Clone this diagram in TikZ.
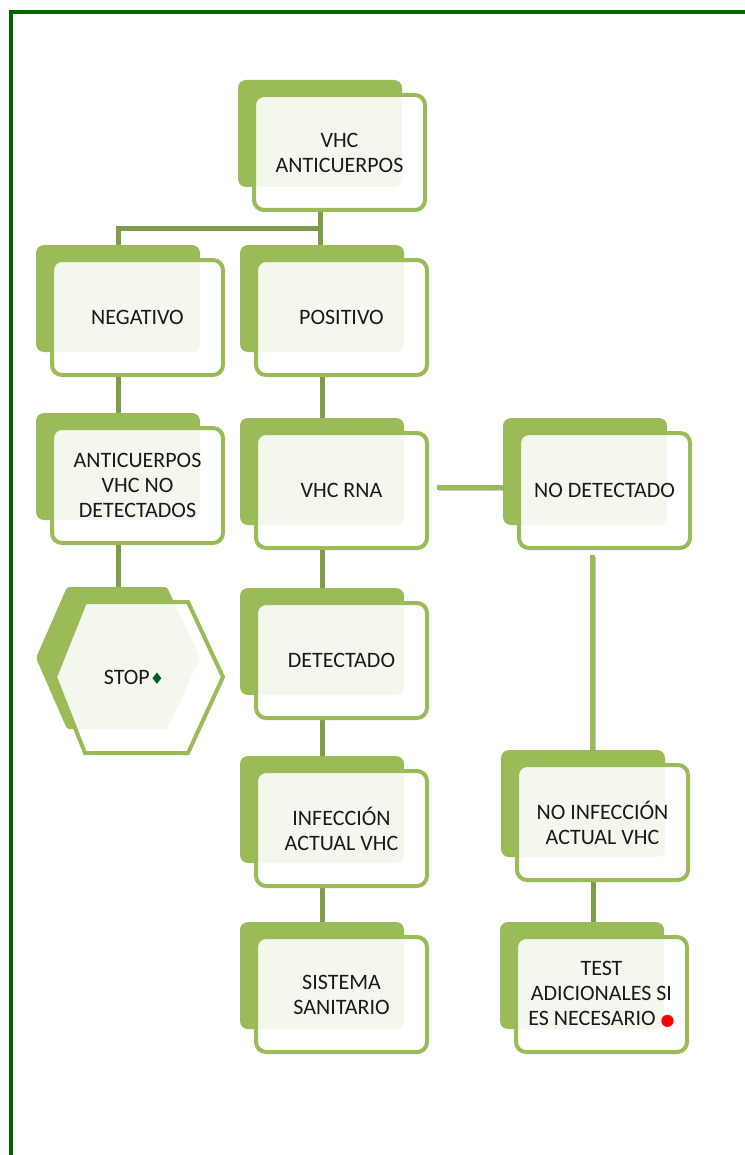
\documentclass[tikz,border=0pt]{standalone}
\usepackage{fontspec}
\setmainfont{Carlito}
\newfontfamily\symfont{DejaVu Sans}
\usetikzlibrary{calc,backgrounds}
\definecolor{gback}{HTML}{9BBB59}
\definecolor{gpale}{HTML}{F3F7EE}
\definecolor{gconn}{HTML}{7E9C48}
\definecolor{gborder}{HTML}{006400}
\definecolor{gdiam}{HTML}{00602A}
\definecolor{gtext}{HTML}{1A1A1A}
\tikzset{
  gfront/.style={draw=gback,line width=2pt,rounded corners=5pt,align=center,
    inner sep=0pt,minimum width=85.5pt,minimum height=57.5pt,text=gtext,
    font=\fontsize{11}{12.5}\selectfont},
  gbackn/.style={inner sep=0pt,minimum width=82pt,minimum height=53.5pt},
  tree/.style={draw=gconn,line width=2.5pt},
  side/.style={draw=gback,line width=2.5pt,
    preaction={draw=black!45,opacity=0.45,line width=2.5pt,transform canvas={shift={(0.9pt,-0.9pt)}}}}
}
\newcommand\gbox[4]{%
  \fill[gback,rounded corners=4pt] (#2,#3) rectangle ++(164,107);
  \node[gbackn] (#1b) at (#2+82,#3+53.5) {};
  \fill[white,rounded corners=5pt] (#2+16,#3+15) rectangle ++(171,115);
  \begin{scope}
    \clip[rounded corners=5pt] (#2+16,#3+15) rectangle ++(171,115);
    \fill[gpale,rounded corners=4pt] (#2,#3) rectangle ++(164,107);
  \end{scope}
  \node[gfront] (#1) at (#2+101.5,#3+72.5) {#4};
}
\begin{document}
\begin{tikzpicture}[x=0.5pt,y=-0.5pt]
\useasboundingbox (0,0) rectangle (744,1155);
\draw[gborder,line width=2pt] (10.5,1160) -- (10.5,12) -- (750,12);

\gbox{vhc}{238}{80}{VHC\\ANTICUERPOS}
\gbox{neg}{36}{245}{NEGATIVO}
\gbox{pos}{240}{245}{POSITIVO}
\gbox{ant}{36}{413}{ANTICUERPOS\\VHC NO\\DETECTADOS}
\gbox{rna}{240}{418}{VHC RNA}
\gbox{nodet}{503}{418}{NO DETECTADO}
\gbox{det}{240}{588}{DETECTADO}
\gbox{inf}{240}{756}{INFECCIÓN\\ACTUAL VHC}
\gbox{noinf}{501}{750}{NO INFECCIÓN\\ACTUAL VHC}
\gbox{sis}{240}{922}{SISTEMA\\SANITARIO}
\gbox{test}{500}{922}{TEST\\ADICIONALES SI\\ES NECESARIO {\symfont\color{red}\fontsize{8}{8}\selectfont●}}

% STOP hexagon
\fill[gback,rounded corners=1pt] (36,658) -- (67,587) -- (167,587) -- (200,658) -- (167,729) -- (67,729) -- cycle;
\node[inner sep=0pt,minimum width=82pt,minimum height=71pt] (stopb) at (118,658) {};
\fill[white] (55,677) -- (85,602) -- (188,602) -- (223,677) -- (188,753) -- (85,753) -- cycle;
\begin{scope}
  \clip (55,677) -- (85,602) -- (188,602) -- (223,677) -- (188,753) -- (85,753) -- cycle;
  \fill[gpale,rounded corners=1pt] (36,658) -- (67,587) -- (167,587) -- (200,658) -- (167,729) -- (67,729) -- cycle;
\end{scope}
\draw[gback,line width=2pt,line join=miter] (55,677) -- (85,602) -- (188,602) -- (223,677) -- (188,753) -- (85,753) -- cycle;
\node[text=gtext,font=\fontsize{11}{12.5}\selectfont] (stop) at (134,677) {STOP{\symfont\color{gdiam}\fontsize{8}{8}\selectfont♦}};

\begin{pgfonlayer}{background}
  \coordinate (mid) at ($(vhc.south)!0.5!(posb.north)$);
  \coordinate (split) at (vhcb.south |- mid);
  \draw[tree] (vhcb.south |- vhc.south) -- (split);
  \draw[tree] (negb.north) |- (split) -- (split |- posb.north);
  \draw[tree] (negb.south |- neg.south) -- (antb.north);
  \draw[tree] (antb.south |- ant.south) -- (stopb.north);
  \draw[tree] (posb.south |- pos.south) -- (rnab.north);
  \draw[tree] (rnab.south |- rna.south) -- (detb.north);
  \draw[tree] (detb.south |- det.south) -- (infb.north);
  \draw[tree] (infb.south |- inf.south) -- (sisb.north);
  \coordinate (noinfout) at ($(noinf.south)+(-9,0)$);
  \draw[tree] (noinfout) -- (noinfout |- testb.north);
\end{pgfonlayer}
\coordinate (rnaout) at ($(rna.east)+(8,-3.5)$);
\draw[side] (rnaout) -- (rnaout -| nodetb.west);
\coordinate (ndout) at ($(nodet.south -| nodetb.south)+(7,5)$);
\draw[side] (ndout) -- (ndout |- noinfb.north);
\end{tikzpicture}
\end{document}
